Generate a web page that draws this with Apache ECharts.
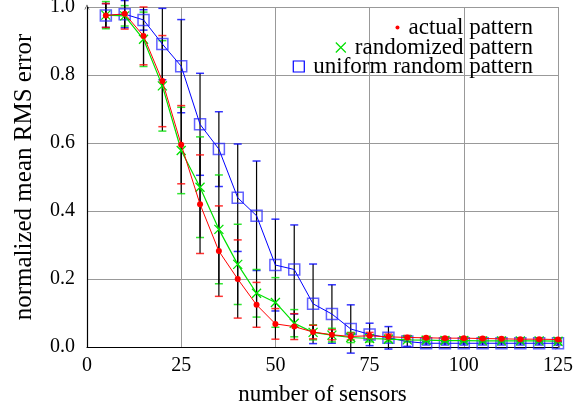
<!DOCTYPE html>
<html><head><meta charset="utf-8">
<script src="https://cdn.jsdelivr.net/npm/echarts@6/dist/echarts.min.js"></script>
<style>html,body{margin:0;padding:0;background:#fff}#c{width:584px;height:408px}</style>
</head><body><div id="c"></div>
<script>
const sensors = [5,10,15,20,25,30,35,40,45,50,55,60,65,70,75,80,85,90,95,100,105,110,115,120,125];
const actual = [0.975,0.98,0.915,0.782,0.595,0.42,0.282,0.2,0.124,0.068,0.06,0.044,0.036,0.031,0.033,0.03,0.028,0.027,0.026,0.026,0.025,0.024,0.023,0.023,0.022];
const actualErr = [0.035,0.045,0.085,0.134,0.115,0.145,0.133,0.115,0.066,0.045,0.038,0.02,0.015,0.01,0.01,0.008,0.006,0.004,0.004,0.004,0.004,0.004,0.004,0.004,0.004];
const randomized = [0.976,0.974,0.905,0.768,0.578,0.47,0.346,0.243,0.158,0.131,0.07,0.043,0.035,0.028,0.025,0.023,0.021,0.02,0.019,0.019,0.018,0.018,0.018,0.018,0.017];
const randomizedErr = [0.04,0.03,0.08,0.133,0.127,0.148,0.16,0.118,0.07,0.073,0.04,0.022,0.02,0.015,0.01,0.008,0.006,0.004,0.004,0.004,0.004,0.004,0.004,0.004,0.004];
const uniform = [0.975,0.979,0.962,0.891,0.826,0.655,0.582,0.439,0.386,0.241,0.228,0.127,0.097,0.053,0.037,0.027,0.016,0.011,0.011,0.011,0.011,0.011,0.011,0.011,0.011];
const uniformErr = [0.035,0.04,0.03,0.105,0.137,0.15,0.11,0.158,0.161,0.135,0.131,0.117,0.086,0.071,0.033,0.033,0.014,0.005,0.005,0.005,0.005,0.005,0.005,0.005,0.005];
const names = ['actual pattern','randomized pattern','uniform random pattern'];
const xTicks = [0,25,50,75,100,125];
const yTicks = [0,0.2,0.4,0.6,0.8,1.0];

const FONT = '"Liberation Serif","DejaVu Serif","Times New Roman",serif';
const RED = '#ff0000', GREEN = '#00e000', BLUE = '#0000ff';
const XPATH = 'path://M0,0L10,10M10,0L0,10';

function pts(v){ return sensors.map((x,i)=>[x,v[i]]); }
function bars(v,e){ return sensors.map((x,i)=>[x,v[i]-e[i],v[i]+e[i]]); }
function errSeries(data,color){
  return {type:'custom', clip:false, z:1, silent:true, data:data,
    renderItem:function(params,api){
      const x=api.value(0), lo=api.value(1), hi=api.value(2);
      const a=api.coord([x,lo]), b=api.coord([x,hi]); const w=4;
      return {type:'group', children:[
        {type:'line', shape:{x1:a[0],y1:a[1],x2:b[0],y2:b[1]}, style:{stroke:'#000',lineWidth:1.2}},
        {type:'line', shape:{x1:a[0]-w,y1:a[1],x2:a[0]+w,y2:a[1]}, style:{stroke:color,lineWidth:1.5,opacity:0.8}},
        {type:'line', shape:{x1:b[0]-w,y1:b[1],x2:b[0]+w,y2:b[1]}, style:{stroke:color,lineWidth:1.5,opacity:0.8}}
      ]};
    }};
}
const chart = echarts.init(document.getElementById('c'),null,{renderer:'canvas'});
const legTxt = {fontFamily:FONT,fontSize:23,color:'#000',lineHeight:20,padding:[0,0,0,4]};
chart.setOption({
  animation:false,
  backgroundColor:'#fff',
  textStyle:{fontFamily:FONT},
  grid:{left:87,right:26,top:7,bottom:61,containLabel:false,outerBoundsMode:'none'},
  legend:[
    {right:51,top:16,padding:0,itemWidth:4,itemHeight:4,textStyle:legTxt,
     data:[{name:names[0],icon:'circle',itemStyle:{color:RED}}]},
    {right:51,top:36,padding:0,itemWidth:10,itemHeight:10,textStyle:legTxt,
     data:[{name:names[1],icon:XPATH,itemStyle:{color:'none',borderColor:GREEN,borderWidth:1.2}}]},
    {right:51,top:55,padding:0,itemWidth:11,itemHeight:11,textStyle:legTxt,
     data:[{name:names[2],icon:'rect',itemStyle:{color:'none',borderColor:BLUE,borderWidth:1.2}}]}
  ],
  xAxis:{type:'value',min:0,max:125,interval:25,
    name:'number of sensors',nameLocation:'middle',nameGap:36,
    nameTextStyle:{fontFamily:FONT,fontSize:23,color:'#000'},
    axisLine:{lineStyle:{color:'#000',width:1.2},symbol:['none','path://M0,10L5,0L10,10L9,10L5,2L1,10Z'],symbolSize:[7,5]},
    axisTick:{show:false},
    axisLabel:{fontFamily:FONT,fontSize:20,color:'#000',margin:9,formatter:v=>xTicks.includes(v)?String(v):''},
    splitLine:{show:true,lineStyle:{color:'#999',width:1}}},
  yAxis:{type:'value',min:0,max:1,interval:0.2,
    name:'normalized mean RMS error',nameLocation:'middle',nameGap:50,
    nameTextStyle:{fontFamily:FONT,fontSize:25,color:'#000'},
    axisLine:{show:true,lineStyle:{color:'#000',width:1.2},symbol:['none','path://M0,10L5,0L10,10L9,10L5,2L1,10Z'],symbolSize:[7,5]},
    axisTick:{show:false},
    axisLabel:{fontFamily:FONT,fontSize:20,color:'#000',margin:12,formatter:v=>yTicks.some(t=>Math.abs(t-v)<1e-9)?v.toFixed(1):''},
    splitLine:{show:true,lineStyle:{color:'#999',width:1}}},
  series:[
    errSeries(bars(uniform,uniformErr),BLUE),
    errSeries(bars(randomized,randomizedErr),GREEN),
    errSeries(bars(actual,actualErr),RED),
    {name:names[2],type:'line',z:3,data:pts(uniform),symbol:'rect',symbolSize:11,
      lineStyle:{color:BLUE,width:1},itemStyle:{color:'none',borderColor:'rgba(30,30,255,0.7)',borderWidth:1.5}},
    {name:names[1],type:'line',z:4,data:pts(randomized),symbol:XPATH,symbolSize:9,
      lineStyle:{color:GREEN,width:1.2},itemStyle:{color:'none',borderColor:GREEN,borderWidth:1.3}},
    {name:names[0],type:'line',z:5,data:pts(actual),symbol:'circle',symbolSize:6,
      lineStyle:{color:RED,width:1},itemStyle:{color:RED}}
  ]
});
</script></body></html>
